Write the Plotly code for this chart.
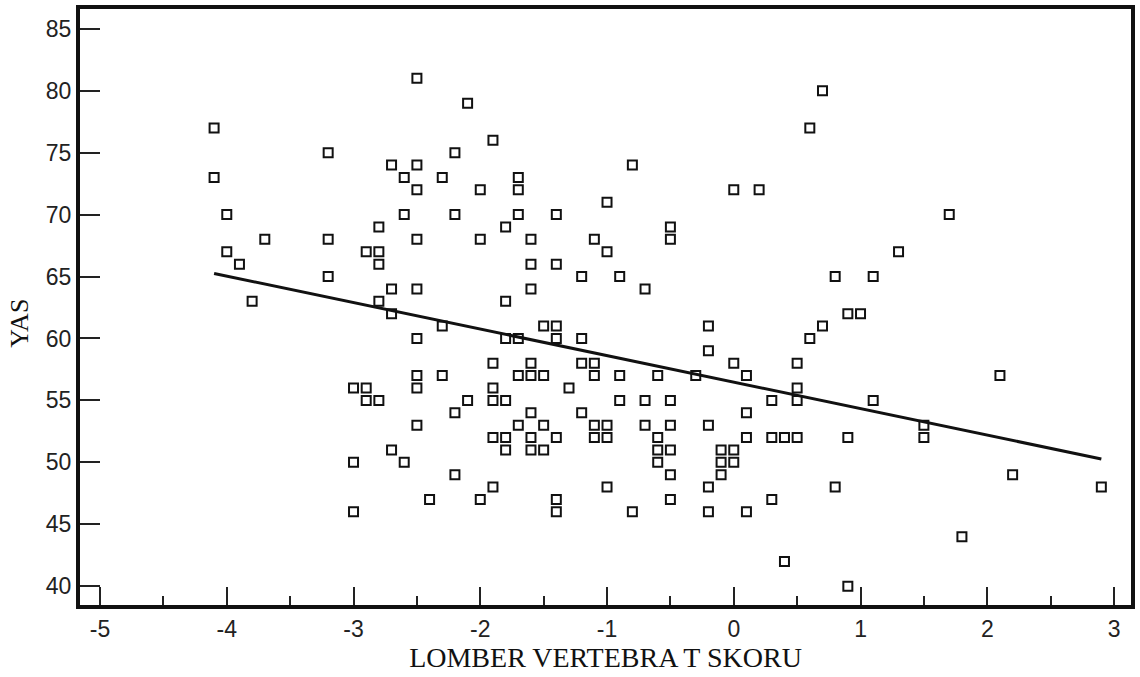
import numpy as np
import plotly.graph_objects as go

# Lumbar vertebra T-score of each patient
t_score = [
    -4.1, -4.1, -4.0, -4.0, -3.9, -3.8, -3.7, -3.2, -3.2, -3.2, -3.0, -3.0, -3.0,
    -2.9, -2.9, -2.9,
    -2.8, -2.8, -2.8, -2.8, -2.8,
    -2.7, -2.7, -2.7, -2.7,
    -2.6, -2.6, -2.6,
    -2.5, -2.5, -2.5, -2.5, -2.5, -2.5, -2.5, -2.5, -2.5,
    -2.4,
    -2.3, -2.3, -2.3,
    -2.2, -2.2, -2.2, -2.2,
    -2.1, -2.1,
    -2.0, -2.0, -2.0,
    -1.9, -1.9, -1.9, -1.9, -1.9, -1.9,
    -1.8, -1.8, -1.8, -1.8, -1.8, -1.8,
    -1.7, -1.7, -1.7, -1.7, -1.7, -1.7,
    -1.6, -1.6, -1.6, -1.6, -1.6, -1.6, -1.6, -1.6,
    -1.5, -1.5, -1.5, -1.5,
    -1.4, -1.4, -1.4, -1.4, -1.4, -1.4, -1.4,
    -1.3,
    -1.2, -1.2, -1.2, -1.2,
    -1.1, -1.1, -1.1, -1.1, -1.1,
    -1.0, -1.0, -1.0, -1.0, -1.0,
    -0.9, -0.9, -0.9,
    -0.8, -0.8,
    -0.7, -0.7, -0.7,
    -0.6, -0.6, -0.6, -0.6,
    -0.5, -0.5, -0.5, -0.5, -0.5, -0.5, -0.5,
    -0.3,
    -0.2, -0.2, -0.2, -0.2, -0.2,
    -0.1, -0.1, -0.1,
    0.0, 0.0, 0.0, 0.0,
    0.1, 0.1, 0.1, 0.1,
    0.2,
    0.3, 0.3, 0.3,
    0.4, 0.4,
    0.5, 0.5, 0.5, 0.5,
    0.6, 0.6,
    0.7, 0.7,
    0.8, 0.8,
    0.9, 0.9, 0.9,
    1.0,
    1.1, 1.1,
    1.3,
    1.5, 1.5,
    1.7,
    1.8,
    2.1,
    2.2,
    2.9,
]

# Age of each patient (years)
age = [
    77, 73, 70, 67, 66, 63, 68, 75, 68, 65, 56, 50, 46,
    67, 56, 55,
    69, 67, 66, 63, 55,
    74, 64, 62, 51,
    73, 70, 50,
    81, 74, 72, 68, 64, 60, 57, 56, 53,
    47,
    73, 61, 57,
    75, 70, 54, 49,
    79, 55,
    72, 68, 47,
    76, 58, 56, 55, 52, 48,
    69, 63, 60, 55, 52, 51,
    73, 72, 70, 60, 57, 53,
    68, 66, 64, 58, 57, 54, 52, 51,
    61, 57, 53, 51,
    70, 66, 61, 60, 52, 47, 46,
    56,
    65, 60, 58, 54,
    68, 58, 57, 53, 52,
    71, 67, 53, 52, 48,
    65, 57, 55,
    74, 46,
    64, 55, 53,
    57, 52, 51, 50,
    69, 68, 55, 53, 51, 49, 47,
    57,
    61, 59, 53, 48, 46,
    51, 50, 49,
    72, 58, 51, 50,
    57, 54, 52, 46,
    72,
    55, 52, 47,
    52, 42,
    58, 56, 55, 52,
    77, 60,
    80, 61,
    65, 48,
    62, 52, 40,
    62,
    65, 55,
    67,
    53, 52,
    70,
    44,
    57,
    49,
    48,
]

x_ticks = [-5, -4, -3, -2, -1, 0, 1, 2, 3]
x_tick_labels = ["-5", "-4", "-3", "-2", "-1", "0", "1", "2", "3"]
y_ticks = [40, 45, 50, 55, 60, 65, 70, 75, 80, 85]
y_tick_labels = ["40", "45", "50", "55", "60", "65", "70", "75", "80", "85"]

# Least-squares regression line of age on T-score
slope, intercept = np.polyfit(t_score, age, 1)
x_fit = [min(t_score), max(t_score)]
y_fit = [intercept + slope * v for v in x_fit]

fig = go.Figure()
fig.add_trace(go.Scatter(
    x=t_score, y=age, mode="markers",
    marker=dict(symbol="square-open", size=9, color="#111111",
                line=dict(width=2, color="#111111")),
    showlegend=False, hoverinfo="x+y",
))
fig.add_trace(go.Scatter(
    x=x_fit, y=y_fit, mode="lines",
    line=dict(color="#111111", width=3),
    showlegend=False, hoverinfo="skip",
))

tick_font = dict(family="Liberation Sans, Arial, sans-serif", size=23, color="#222222")
title_font = dict(family="Liberation Serif, Times New Roman, serif", size=28, color="#111111")

fig.update_xaxes(
    range=[-5.158, 3.134], tickmode="array", tickvals=x_ticks, ticktext=x_tick_labels,
    ticks="inside", ticklen=18, tickwidth=2, tickcolor="#222222",
    minor=dict(dtick=0.5, tick0=0, ticks="inside", ticklen=9, tickwidth=2, tickcolor="#222222"),
    showline=True, linewidth=4, linecolor="#111111", mirror=True,
    showgrid=False, zeroline=False, tickfont=tick_font,
    title=dict(text="LOMBER VERTEBRA T SKORU", font=title_font, standoff=2),
)
fig.update_yaxes(
    range=[38.48, 86.6], tickmode="array", tickvals=y_ticks, ticktext=y_tick_labels,
    ticks="inside", ticklen=20, tickwidth=2, tickcolor="#222222",
    showline=True, linewidth=4, linecolor="#111111", mirror=True,
    showgrid=False, zeroline=False, tickfont=tick_font,
)
# Y-axis title placed as an annotation so it sits where the original label is
fig.add_annotation(
    text="YAS", textangle=-90, xref="paper", yref="paper",
    x=-0.057, y=0.472, xanchor="center", yanchor="middle",
    showarrow=False, font=dict(family="Liberation Serif, Times New Roman, serif",
                               size=26, color="#111111"),
)
fig.update_layout(
    width=1140, height=677,
    margin=dict(l=80, r=8, t=5, b=72),
    paper_bgcolor="white", plot_bgcolor="white",
)
fig.write_html("out.html")
